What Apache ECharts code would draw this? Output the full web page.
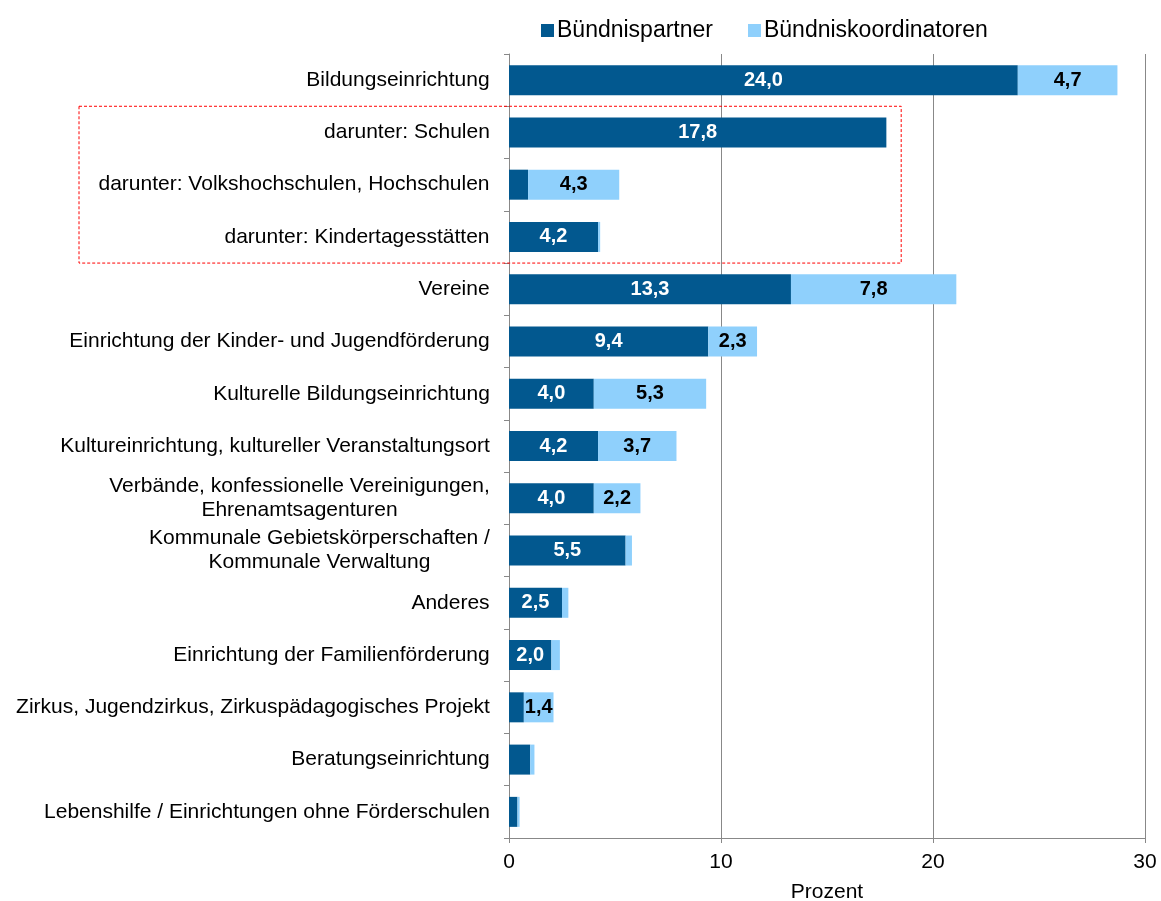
<!DOCTYPE html>
<html>
<head>
<meta charset="utf-8">
<title>Bündnispartner</title>
<script src="https://cdn.jsdelivr.net/npm/echarts@6/dist/echarts.min.js"></script>
<style>
  html, body { margin: 0; padding: 0; background: #fff; }
  #main { width: 1161px; height: 901px; }
</style>
</head>
<body>
<div id="main"></div>
<script>
var categories = [
  'Bildungseinrichtung',
  'darunter: Schulen',
  'darunter: Volkshochschulen, Hochschulen',
  'darunter: Kindertagesstätten',
  'Vereine',
  'Einrichtung der Kinder- und Jugendförderung',
  'Kulturelle Bildungseinrichtung',
  'Kultureinrichtung, kultureller Veranstaltungsort',
  'Verbände, konfessionelle Vereinigungen,\nEhrenamtsagenturen',
  'Kommunale Gebietskörperschaften /\nKommunale Verwaltung',
  'Anderes',
  'Einrichtung der Familienförderung',
  'Zirkus, Jugendzirkus, Zirkuspädagogisches Projekt',
  'Beratungseinrichtung',
  'Lebenshilfe / Einrichtungen ohne Förderschulen'
];
var partner =     [24.0, 17.8, 0.9, 4.2, 13.3, 9.4, 4.0, 4.2, 4.0, 5.5, 2.5, 2.0, 0.7, 1.0, 0.4];
var koordinator = [4.7,  0.0,  4.3, 0.1, 7.8,  2.3, 5.3, 3.7, 2.2, 0.3, 0.3, 0.4, 1.4, 0.2, 0.1];
var xTicks = [0, 10, 20, 30];

var FONT = '"Liberation Sans", Arial, sans-serif';
var LABEL_SIZE = 21;

// Mehrzeilige Beschriftungen: Zeilen zentriert, Block rechtsbündig
var ctx = document.createElement('canvas').getContext('2d');
ctx.font = LABEL_SIZE + 'px ' + FONT;
var rich = {};
categories.forEach(function (c, i) {
  var w = 0;
  c.split('\n').forEach(function (l) { w = Math.max(w, ctx.measureText(l).width); });
  rich['r' + i] = { width: Math.ceil(w) + 2, align: 'center', fontSize: LABEL_SIZE, lineHeight: 24,
    color: '#000', fontFamily: FONT };
});

function fmt(p) {
  return p.value >= 1.4 ? p.value.toFixed(1).replace('.', ',') : '';
}

var chart = echarts.init(document.getElementById('main'));
var option = {
  animation: false,
  textStyle: { fontFamily: FONT },
  legend: {
    top: 14,
    left: 536,
    icon: 'rect',
    itemWidth: 13,
    itemHeight: 13,
    itemGap: 35,
    textStyle: { fontSize: 23, color: '#000', padding: [0, 0, 0, -2] },
    data: ['Bündnispartner', 'Bündniskoordinatoren']
  },
  grid: { left: 509, right: 16, top: 54, bottom: 63, outerBoundsMode: 'none' },
  xAxis: {
    type: 'value',
    min: xTicks[0],
    max: xTicks[xTicks.length - 1],
    interval: 10,
    name: 'Prozent',
    nameLocation: 'middle',
    nameGap: 44,
    nameTextStyle: { fontSize: 21, color: '#000' },
    axisLine: { show: true, lineStyle: { color: '#888' } },
    axisTick: { show: true, length: 5, lineStyle: { color: '#888' } },
    axisLabel: { fontSize: 21, color: '#000', margin: 14 },
    splitLine: { show: true, lineStyle: { color: '#888', width: 1 } }
  },
  yAxis: {
    type: 'category',
    inverse: true,
    data: categories,
    axisLine: { show: true, lineStyle: { color: '#888' } },
    axisTick: { show: true, length: 5, lineStyle: { color: '#888' } },
    axisLabel: {
      margin: 18,
      fontSize: LABEL_SIZE,
      color: '#000',
      formatter: function (v, i) {
        return v.split('\n').map(function (l) { return '{r' + i + '|' + l + '}'; }).join('\n');
      },
      rich: rich
    }
  },
  series: [
    {
      name: 'Bündnispartner',
      type: 'bar',
      stack: 'total',
      barWidth: 30,
      itemStyle: { color: '#02588f' },
      label: { show: true, position: 'inside', color: '#fff', fontWeight: 'bold', fontSize: 20, formatter: fmt },
      data: partner
    },
    {
      name: 'Bündniskoordinatoren',
      type: 'bar',
      stack: 'total',
      barWidth: 30,
      itemStyle: { color: '#8fd0fc' },
      label: { show: true, position: 'inside', color: '#000', fontWeight: 'bold', fontSize: 20, formatter: fmt },
      data: koordinator
    }
  ]
};
chart.setOption(option);

// rot gestrichelter Rahmen um die "darunter"-Zeilen
var yTop = chart.convertToPixel({ yAxisIndex: 0 }, categories[1]);
var yBot = chart.convertToPixel({ yAxisIndex: 0 }, categories[3]);
var half = (yBot - yTop) / 4;
var xRight = chart.convertToPixel({ xAxisIndex: 0 }, 18.5);
chart.setOption({
  graphic: [{
    type: 'rect',
    shape: { x: 79, y: yTop - half, width: xRight - 79, height: (yBot - yTop) + 2 * half },
    style: { fill: 'none', stroke: '#ff0000', lineWidth: 1, lineDash: [3, 2] },
    z: 100
  }]
});
</script>
</body>
</html>
